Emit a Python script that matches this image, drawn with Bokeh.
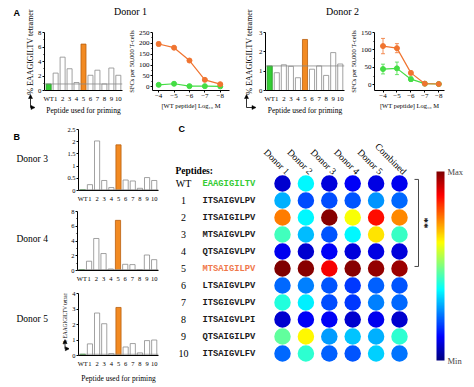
import math
from bokeh.plotting import figure
from bokeh.layouts import row, column
from bokeh.models import (Range1d, FixedTicker, Span, Label, Arrow, NormalHead, Whisker, TeeHead,
                          ColumnDataSource, LinearColorMapper, ColorBar)
from bokeh.core.properties import value
from bokeh.embed import file_html
from bokeh.resources import INLINE

# ---------------- data ----------------
peptides = ["WT", "1", "2", "3", "4", "5", "6", "7", "8", "9", "10"]
sequences = ["EAAGIGILTV", "ITSAIGVLPV", "ITSAIGILPV", "MTSAIGVLPV", "QTSAIGVLPV",
             "MTSAIGILPV", "LTSAIGVLPV", "ITSGIGVLPV", "ITSAIGVLPI", "QTSAIGILPV", "ITSAIGVLFV"]

donor1_tet = [0.9, 2.4, 4.6, 3.0, 1.1, 6.4, 2.1, 2.8, 0.9, 3.1, 2.1]
donor2_tet = [1.27, 0.92, 1.33, 1.25, 0.66, 2.64, 1.10, 1.27, 0.78, 1.96, 1.37]
donor3_tet = [0.03, 0.24, 2.03, 0.41, 0.12, 1.87, 0.43, 0.39, 0.09, 0.53, 0.41]
donor4_tet = [0.12, 1.26, 4.34, 2.30, 0.20, 6.80, 0.84, 0.80, 0.12, 2.10, 1.47]
donor5_tet = [0.08, 0.75, 2.74, 2.05, 0.12, 3.10, 0.55, 0.77, 0.17, 0.96, 1.00]

log_conc = [-4, -5, -6, -7, -8]
d1_pep5 = [197, 180, 121, 32, 12]
d1_pep5_err = [9, 4, 4, 3, 2]
d1_wt = [9, 14, 3, 3, 2]
d1_wt_err = [3, 2, 1, 1, 1]
d2_pep5 = [111, 105, 34, 3, 2]
d2_pep5_err = [22, 13, 5, 1, 1]
d2_wt = [45, 47, 16, 3, 2]
d2_wt_err = [14, 18, 6, 1, 1]

heat_columns = ["Donor 1", "Donor 2", "Donor 3", "Donor 4", "Donor 5", "Combined"]
heat_donor1 = [0.08, 0.30, 0.75, 0.44, 0.11, 1.00, 0.23, 0.41, 0.08, 0.47, 0.23]
heat_donor2 = [0.37, 0.20, 0.37, 0.31, 0.08, 0.99, 0.25, 0.36, 0.12, 0.63, 0.42]
heat_donor3 = [0.09, 0.20, 0.99, 0.21, 0.12, 0.88, 0.21, 0.20, 0.12, 0.28, 0.22]
heat_donor4 = [0.12, 0.21, 0.62, 0.37, 0.09, 0.99, 0.18, 0.18, 0.08, 0.32, 0.21]
heat_donor5 = [0.10, 0.27, 0.86, 0.65, 0.10, 0.98, 0.22, 0.25, 0.11, 0.30, 0.33]
heat_combined = [0.11, 0.23, 0.74, 0.43, 0.09, 0.97, 0.21, 0.23, 0.08, 0.42, 0.24]
signif_rows = [0, 5]

# ---------------- style ----------------
SERIF = "Liberation Serif"
MONO = "Liberation Mono"
SANS = "Liberation Sans"
GREEN = "#34cc34"
GREEN_LINE = "#1f9a1f"
ORANGE = "#f28a22"
ORANGE_LINE = "#b9600f"
LINE_ORANGE = "#f07430"
LINE_GREEN = "#44dd44"
tet_label = "% EAAGIGILTV tetramer"
prime_label = "Peptide used for priming"


class Geo:
    def __init__(self, box, frame, xr, yr):
        self.box, self.frame, self.xr, self.yr = box, frame, xr, yr


def make_fig(g):
    bx0, by0, bx1, by1 = g.box
    fx0, fy0, fx1, fy1 = g.frame
    p = figure(width=bx1 - bx0, height=by1 - by0,
               x_range=Range1d(*g.xr), y_range=Range1d(*g.yr),
               min_border_left=fx0 - bx0, min_border_right=bx1 - fx1,
               min_border_top=fy0 - by0, min_border_bottom=by1 - fy1,
               output_backend="svg", toolbar_location=None)
    p.outline_line_color = None
    return p


def px_fig(box):
    """A plain canvas whose data units equal page pixels (for headings/labels/arrows)."""
    bx0, by0, bx1, by1 = box
    p = figure(width=bx1 - bx0, height=by1 - by0, x_range=Range1d(bx0, bx1),
               y_range=Range1d(by1, by0), x_axis_type=None, y_axis_type=None,
               min_border=0, min_border_left=0, min_border_right=0, min_border_top=0,
               min_border_bottom=0, output_backend="svg", toolbar_location=None)
    p.outline_line_color = None
    return p


def txt(p, x, y, s, size, font=SERIF, style="normal", align="left", angle=0.0):
    p.add_layout(Label(x=x, y=y, text=s, text_font=font, text_font_style=style,
                       text_font_size=size, text_baseline="middle", text_align=align,
                       angle=angle, text_color="black"))


def l_arrow(p, cx, cy, top_y, right_x):
    head = dict(size=4, fill_color="black", line_color="black", line_width=0.5)
    p.add_layout(Arrow(end=NormalHead(**head), x_start=cx, y_start=cy, x_end=cx, y_end=top_y,
                       line_width=0.8, line_color="black"))
    p.add_layout(Arrow(end=NormalHead(**head), x_start=cx, y_start=cy, x_end=right_x, y_end=cy,
                       line_width=0.8, line_color="black"))


def style_axes(p, tick_fs, label_fs):
    for ax in p.axis:
        ax.axis_line_color = "black"
        ax.axis_line_width = 1
        ax.major_tick_line_color = "black"
        ax.major_tick_out = 2
        ax.major_tick_in = 0
        ax.minor_tick_line_color = "black"
        ax.minor_tick_out = 1
        ax.minor_tick_in = 0
        ax.major_label_text_font = SERIF
        ax.major_label_text_font_size = tick_fs
        ax.major_label_text_color = "black"
        ax.axis_label_text_font = SERIF
        ax.axis_label_text_font_size = label_fs
        ax.axis_label_text_font_style = "normal"
        ax.axis_label_text_color = "black"
        ax.axis_label_standoff = 1
        ax.major_label_standoff = 1
    p.xgrid.visible = False
    p.ygrid.visible = False


def bar_panel(vals, g, yticks, tick_fs, minor=(), xlabel=None, overrides=None, xl_standoff=1):
    p = make_fig(g)
    xs = list(range(len(peptides)))
    fills = [GREEN if n == "WT" else ORANGE if n == "5" else "white" for n in peptides]
    lines = [GREEN_LINE if n == "WT" else ORANGE_LINE if n == "5" else "#8a8a8a" for n in peptides]
    p.add_layout(Span(location=vals[0], dimension="width", line_color="#8a8a8a", line_width=0.8))
    p.vbar(x=xs, top=vals, bottom=0, width=0.72, fill_color=fills, line_color=lines, line_width=0.8)
    style_axes(p, tick_fs, "7.5px")
    p.xaxis.ticker = FixedTicker(ticks=xs)
    p.xaxis.major_label_overrides = {i: n for i, n in enumerate(peptides)}
    p.xaxis.major_tick_line_color = None
    p.xaxis.minor_tick_line_color = None
    p.xaxis.major_label_standoff = 2
    p.yaxis.ticker = FixedTicker(ticks=yticks, minor_ticks=list(minor))
    if overrides:
        p.yaxis.major_label_overrides = overrides
    if xlabel:
        p.xaxis.axis_label = xlabel
        p.xaxis.axis_label_standoff = xl_standoff
    return p


def line_panel(g, yticks, minor, series):
    p = make_fig(g)
    for vals, errs, color in series:
        src = ColumnDataSource(dict(x=log_conc, y=vals,
                                    upper=[v + e for v, e in zip(vals, errs)],
                                    lower=[v - e for v, e in zip(vals, errs)]))
        p.add_layout(Whisker(source=src, base="x", upper="upper", lower="lower",
                             line_color=color, line_width=0.8,
                             upper_head=TeeHead(size=4, line_color=color, line_width=0.8),
                             lower_head=TeeHead(size=4, line_color=color, line_width=0.8)))
        p.line("x", "y", source=src, line_color=color, line_width=1.2)
        p.scatter("x", "y", source=src, size=5, fill_color=color, line_color=color)
    style_axes(p, "7px", "6.5px")
    p.xaxis.ticker = FixedTicker(ticks=log_conc)
    p.xaxis.minor_tick_line_color = None
    p.yaxis.ticker = FixedTicker(ticks=yticks, minor_ticks=minor)
    p.xaxis.axis_label = "[WT peptide] Log\u2081\u2080 M"
    p.yaxis.axis_label = "SFCs per 50,000 T-cells"
    return p


# ---------------- panel A ----------------
la1 = px_fig((0, 0, 35, 118))
txt(la1, 13, 12, "A", "9px", font=SANS, style="bold")
txt(la1, 30, 51.5, tet_label, "8px", align="center", angle=math.pi / 2)
l_arrow(la1, 30, 107, 94, 34.5)

strip1 = px_fig((35, 0, 242, 22))
txt(strip1, 130, 10.5, "Donor 1", "10px", align="center")

g_a1 = Geo((35, 22, 124, 118), (43, 29, 122, 90), (-0.6, 10.6), (0, 8))
a1bar = bar_panel(donor1_tet, g_a1, [0, 2, 4, 6, 8], "6.8px", minor=[1, 3, 5, 7],
                  xlabel=prime_label)

g_a1l = Geo((124, 22, 242, 118), (152, 32, 229, 94), (-3.6, -8.6), (-17, 250))
a1line = line_panel(g_a1l, [0, 50, 100, 150, 200, 250], [25, 75, 125, 175, 225],
                    [(d1_wt, d1_wt_err, LINE_GREEN), (d1_pep5, d1_pep5_err, LINE_ORANGE)])

la2 = px_fig((242, 0, 256, 118))
txt(la2, 248.5, 51.5, tet_label, "8px", align="center", angle=math.pi / 2)
l_arrow(la2, 246, 107, 94, 255.5)

strip2 = px_fig((256, 0, 472, 22))
txt(strip2, 342, 10.5, "Donor 2", "10px", align="center")

g_a2 = Geo((256, 22, 346, 118), (265, 28, 344, 90), (-0.6, 10.6), (0, 3))
a2bar = bar_panel(donor2_tet, g_a2, [0, 1, 2, 3], "6.8px", xlabel=prime_label)

g_a2l = Geo((346, 22, 472, 118), (370, 32, 444, 93), (-3.39, -8.41), (-16.6, 150))
a2line = line_panel(g_a2l, [0, 50, 100, 150], [25, 75, 125],
                    [(d2_wt, d2_wt_err, LINE_GREEN), (d2_pep5, d2_pep5_err, LINE_ORANGE)])

# ---------------- panel B ----------------
lb3 = px_fig((0, 118, 64, 204))
txt(lb3, 13, 129, "B", "9px", font=SANS, style="bold")
txt(lb3, 16, 160, "Donor 3", "9.5px")
g_b3 = Geo((64, 118, 165, 204), (77, 129, 158, 192), (-0.6, 10.6), (0, 2.5))
b3 = bar_panel(donor3_tet, g_b3, [0, 0.5, 1, 1.5, 2, 2.5], "6.5px",
               overrides={0: "0", 1: "1", 2: "2"})

lb4 = px_fig((0, 204, 64, 284))
txt(lb4, 16, 241, "Donor 4", "9.5px")
g_b4 = Geo((64, 204, 165, 284), (77, 211, 158, 274), (-0.6, 10.6), (0, 8))
b4 = bar_panel(donor4_tet, g_b4, [0, 2, 4, 6, 8], "6.5px", minor=[1, 3, 5, 7])

lb5 = px_fig((0, 284, 69, 385))
txt(lb5, 16, 326, "Donor 5", "9.5px")
txt(lb5, 64, 320, tet_label, "5.4px", align="center", angle=math.pi / 2)
l_arrow(lb5, 64.5, 374, 359, 68.8)
g_b5 = Geo((69, 284, 165, 385), (77, 293, 158, 355), (-0.6, 10.6), (0, 4))
b5 = bar_panel(donor5_tet, g_b5, [0, 1, 2, 3, 4], "6.5px", xlabel=prime_label, xl_standoff=4)

# ---------------- panel C ----------------
pc = px_fig((165, 118, 472, 385))
pc.x_range = Range1d(-5.0, 8.12)
pc.y_range = Range1d(11.882, -3.824)


def cx(px):
    return -5.0 + (px - 165) / 307 * 13.12


def cy(py):
    return -3.824 + (py - 118) / 267 * 15.706


def jet(t):
    r = min(1, max(0, 1.5 - abs(4 * t - 3)))
    g = min(1, max(0, 1.5 - abs(4 * t - 2)))
    b = min(1, max(0, 1.5 - abs(4 * t - 1)))
    return "#%02x%02x%02x" % (int(r * 255), int(g * 255), int(b * 255))


jet_palette = [jet(i / 255) for i in range(256)]
mapper = LinearColorMapper(palette=jet_palette, low=0, high=1)

heat_data = [heat_donor1, heat_donor2, heat_donor3, heat_donor4, heat_donor5, heat_combined]
hx, hy, hv = [], [], []
for ci, col in enumerate(heat_data):
    for ri, v in enumerate(col):
        hx.append(ci)
        hy.append(ri)
        hv.append(v)
heat_src = ColumnDataSource(dict(x=hx, y=hy, v=hv))
pc.scatter("x", "y", source=heat_src, marker="circle", size=16.5,
           fill_color={"field": "v", "transform": mapper}, line_color=None)

rows = list(range(len(peptides)))
seq_colors = [GREEN if n == "WT" else "#f0784a" if n == "5" else "#1a1a1a" for n in peptides]
pc.text(x=[cx(183)] * len(rows), y=rows, text=peptides, text_font=value(SERIF),
        text_font_size="10px", text_align="center", text_baseline="middle", text_color="black")
pc.text(x=[cx(202)] * len(rows), y=rows, text=sequences, text_font=value(MONO),
        text_font_style="bold", text_font_size="8.8px", text_align="left", text_baseline="middle",
        text_color=seq_colors)
pc.text(x=[c + 0.22 for c in range(len(heat_columns))], y=[-0.62] * len(heat_columns),
        text=heat_columns, angle=-0.785, text_font=value(SERIF), text_font_size="9.5px",
        text_align="right", text_baseline="middle", text_color="black")
txt(pc, cx(175), cy(170), "Peptides:", "9.5px", style="bold")
txt(pc, cx(178), cy(128), "C", "9px", font=SANS, style="bold")

# significance bracket spanning rows WT..5
bx_in, bx_out = cx(414), cx(418)
top_r, bot_r = signif_rows[0] - 0.24, signif_rows[1] - 0.12
pc.line(x=[bx_in, bx_out, bx_out, bx_in], y=[top_r, top_r, bot_r, bot_r],
        line_color="#333333", line_width=0.9)
pc.text(x=[cx(426)], y=[(top_r + bot_r) / 2], text=["**"], angle=math.pi / 2,
        text_font=value(SERIF), text_font_style="bold", text_font_size="11px",
        text_align="center", text_baseline="middle", text_color="black")

cbar = ColorBar(color_mapper=mapper, ticker=FixedTicker(ticks=[0, 1]),
                major_label_overrides={0: "Min", 1: "Max"}, width=8, height=189,
                location=(271, 25), padding=0, margin=0, major_tick_line_color=None,
                bar_line_color=None, background_fill_alpha=0, border_line_color=None,
                major_label_text_font=SERIF, major_label_text_font_size="8.5px",
                label_standoff=3)
pc.add_layout(cbar)

# ---------------- layout ----------------
top = row(la1, column(strip1, row(a1bar, a1line)), la2, column(strip2, row(a2bar, a2line)))
panel_b = column(row(lb3, b3), row(lb4, b4), row(lb5, b5))
bottom = row(panel_b, pc)
page = column(top, bottom)

open("out.html", "w").write(file_html(page, INLINE))
